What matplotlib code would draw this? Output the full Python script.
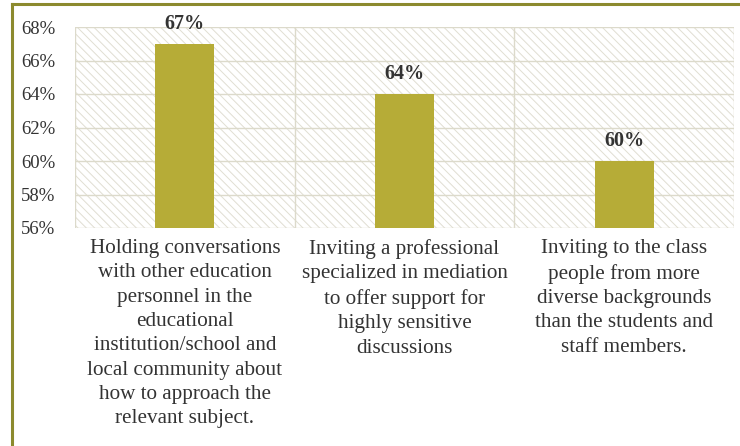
import matplotlib
matplotlib.use("Agg")
import matplotlib.pyplot as plt
from matplotlib.patches import Rectangle
from matplotlib.lines import Line2D

categories = [
    "Holding conversations\nwith other education\npersonnel in the\neducational\ninstitution/school and\nlocal community about\nhow to approach the\nrelevant subject.",
    "Inviting a professional\nspecialized in mediation\nto offer support for\nhighly sensitive\ndiscussions",
    "Inviting to the class\npeople from more\ndiverse backgrounds\nthan the students and\nstaff members.",
]
values = [67, 64, 60]
yticks = [56, 58, 60, 62, 64, 66, 68]

plt.rcParams['hatch.linewidth'] = 0.7
serif = ['Liberation Serif', 'DejaVu Serif']

fig = plt.figure(figsize=(7.4, 4.46), dpi=100)
ax = fig.add_axes([75/740, 1-228/446, (734-75)/740, (228-27)/446])

grid_c = '#dcdacb'
ax.add_patch(Rectangle((0, 0), 1, 1, transform=ax.transAxes, facecolor='white',
                       edgecolor='#e0ded2', hatch='\\\\\\\\', linewidth=0, zorder=0))
for y in yticks:
    ax.axhline(y, color=grid_c, lw=1, zorder=1)
for x in [-0.5, 0.5, 1.5, 2.5]:
    ax.axvline(x, color=grid_c, lw=1, zorder=1)

xs = range(len(values))
ax.bar(xs, values, width=0.27, color='#b6ac37', zorder=3)
for x, v in zip(xs, values):
    ax.annotate(f"{v}%", (x, v), xytext=(0, 7), textcoords='offset points',
                ha='center', va='bottom', fontsize=14.5, fontweight='bold',
                family=serif, color='#333333')

ax.set_xlim(-0.5, 2.5)
ax.set_ylim(56, 68)
ax.set_yticks(yticks)
ax.set_yticklabels([f"{y}%" for y in yticks], family=serif, fontsize=13.5, color='#333333')
ax.set_xticks(list(xs))
ax.set_xticklabels(categories, family=serif, fontsize=15.2, color='#333333',
                   linespacing=1.38, va='top')
ax.tick_params(length=0)
ax.tick_params(axis='y', pad=14)
ax.tick_params(axis='x', pad=8)
for s in ax.spines.values():
    s.set_visible(False)

# outer frame (top and left)
fig.add_artist(Line2D([12/740, 1], [1-3.5/446, 1-3.5/446], color='#8c8a2e', lw=2.2, transform=fig.transFigure))
fig.add_artist(Line2D([12/740, 12/740], [0, 1-3.5/446], color='#8c8a2e', lw=2.2, transform=fig.transFigure))

fig.savefig("out.png", dpi=100, facecolor='white')
